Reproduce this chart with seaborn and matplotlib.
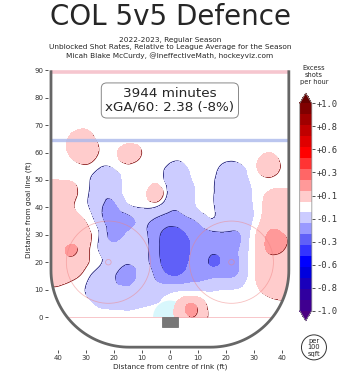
import numpy as np
import matplotlib
matplotlib.use("Agg")
import matplotlib.pyplot as plt
import matplotlib.tri as mtri
import matplotlib.transforms as mtransforms
from matplotlib.colors import ListedColormap, BoundaryNorm
from matplotlib.cm import ScalarMappable
from matplotlib.path import Path
from matplotlib.patches import PathPatch, Circle, Rectangle, Wedge
import seaborn as sns

# grid of excess unblocked shots per hour per 100 sqft
grid_x = [-45, -40, -35, -30, -25, -20, -15, -10, -5, 0, 5, 10, 15, 20, 25, 30, 35, 40, 45]
grid_y = [70, 65, 60, 55, 50, 45, 40, 35, 30, 25, 20, 15, 10, 5, 0]
excess = [
    [0, 0, 0, 0.03, 0, 0, 0, 0, 0, 0, 0, 0, 0, 0, 0, 0, 0, 0, 0],
    [0, 0, 0.08, 0.1, 0.02, 0, 0, 0, 0, 0, 0, 0, 0, 0, 0, 0, 0, 0, 0],
    [0, 0, 0.08, 0.12, 0.03, 0.02, 0.12, 0.04, 0, 0, 0, 0, 0, 0, 0, 0, 0.05, 0, 0],
    [0, 0, 0.01, 0.03, -0.03, -0.03, 0.02, 0, 0, -0.06, -0.06, 0, 0, -0.07, -0.06, 0.02, 0.12, 0.03, 0],
    [0.05, 0.05, 0.04, -0.02, -0.1, -0.1, -0.01, 0, 0.02, -0.1, -0.1, -0.02, -0.02, -0.12, -0.1, -0.02, 0.03, 0.02, 0.02],
    [0.08, 0.12, 0.08, -0.02, -0.12, -0.12, -0.02, 0, 0.11, -0.08, -0.12, -0.03, -0.03, -0.12, -0.12, -0.03, 0.06, 0.08, 0.08],
    [0.12, 0.12, 0.06, -0.03, -0.12, -0.17, -0.07, -0.04, -0.04, -0.12, -0.12, -0.04, -0.03, -0.12, -0.12, -0.04, 0.1, 0.12, 0.12],
    [0.12, 0.12, 0.12, 0.04, -0.1, -0.2, -0.18, -0.13, -0.16, -0.2, -0.18, -0.13, -0.06, -0.1, -0.1, -0.03, 0.12, 0.12, 0.12],
    [0.12, 0.12, 0.12, 0.08, -0.05, -0.18, -0.12, -0.12, -0.2, -0.3, -0.26, -0.2, -0.17, -0.16, -0.15, 0.02, 0.155, 0.155, 0.12],
    [0.1, 0.12, 0.16, 0.08, -0.06, -0.12, -0.1, -0.12, -0.2, -0.33, -0.3, -0.2, -0.22, -0.2, -0.14, 0.03, 0.16, 0.155, 0.12],
    [0.1, 0.12, 0.12, 0.06, -0.03, -0.1, -0.13, -0.12, -0.2, -0.3, -0.28, -0.2, -0.26, -0.22, -0.14, 0.03, 0.12, 0.12, 0.12],
    [0.1, 0.1, 0.07, 0, -0.1, -0.13, -0.2, -0.1, -0.16, -0.24, -0.22, -0.18, -0.17, -0.16, -0.12, 0.03, 0.12, 0.12, 0.12],
    [0.03, 0.03, 0, -0.05, -0.12, -0.12, -0.12, -0.12, -0.1, -0.08, -0.06, -0.06, -0.06, -0.05, -0.04, 0.02, 0.08, 0.1, 0.1],
    [0.02, 0.02, 0, -0.02, -0.07, -0.08, -0.08, -0.07, -0.05, 0, 0.12, 0.12, 0, 0, 0, 0, 0.02, 0.03, 0.03],
    [0, 0, 0, 0, 0, 0, 0, 0, 0, 0.02, 0.12, 0.12, 0.02, 0, 0, 0, 0, 0, 0],
]

# colour bands, from white outward
bounds = np.round(np.arange(-0.95, 0.951, 0.1), 2)
blues = ["#ccccff", "#9999ff", "#6060f8", "#3333ff", "#0000ff", "#0000dd", "#1a00bb", "#30009f", "#400090"]
reds = ["#ffcccc", "#ff9999", "#ff6666", "#ff3333", "#ff0000", "#e00000", "#c00000", "#a00000", "#800000"]
cbar_ticks = np.linspace(-0.95, 0.95, 10)
cbar_labels = ["-1.0", "-0.8", "-0.6", "-0.3", "-0.1", "+0.1", "+0.3", "+0.6", "+0.8", "+1.0"]

sns.set_theme(style="white", rc={"xtick.bottom": True, "ytick.left": True,
                                 "xtick.major.size": 2, "ytick.major.size": 2,
                                 "xtick.major.width": 0.6, "ytick.major.width": 0.6,
                                 "xtick.color": "#333333", "ytick.color": "#333333"})
plt.rcParams["font.family"] = ["DejaVu Sans"]

fig = plt.figure(figsize=(3.58, 3.83), dpi=100)
ax = fig.add_axes([0.1346, 0.0864, 0.680, 0.730])
ax.set_xlim(-43.5, 43.5)
ax.set_ylim(-12, 90)
sns.despine(ax=ax, left=True, bottom=True)

# rink outline
t1 = np.linspace(np.pi, 1.5 * np.pi, 40)
t2 = np.linspace(1.5 * np.pi, 2 * np.pi, 40)
rx = np.concatenate([[-42.5], -14.5 + 28 * np.cos(t1), 14.5 + 28 * np.cos(t2), [42.5]])
ry = np.concatenate([[90], 17 + 28 * np.sin(t1), 17 + 28 * np.sin(t2), [90]])
rink = PathPatch(Path(np.column_stack([rx, ry])), fc="none", ec="none", transform=ax.transData)
ax.add_patch(rink)

# crease, drawn under the heat map
ax.add_patch(Wedge((0, 0), 6, 0, 180, fc="#d8f7fc", ec="none", zorder=1))

# triangulated grid, refined by the library for smooth contours
X, Y = np.meshgrid(grid_x, grid_y)
Z = np.array(excess)
nx, ny = len(grid_x), len(grid_y)
tris = []
for j in range(ny - 1):
    for i in range(nx - 1):
        a = j * nx + i
        tris.append([a, a + 1, a + nx])
        tris.append([a + 1, a + nx + 1, a + nx])
tri = mtri.Triangulation(X.ravel(), Y.ravel(), np.array(tris))
tri_f, z_f = mtri.UniformTriRefiner(tri).refine_field(Z.ravel(), subdiv=3)

pt = 1 / 72
up_left = mtransforms.ScaledTranslation(-0.6 * pt, 0.6 * pt, fig.dpi_scale_trans)
down_right = mtransforms.ScaledTranslation(0.6 * pt, -0.6 * pt, fig.dpi_scale_trans)
zo = 2.0
lo, hi = -10, 10
for k, c in enumerate(blues):
    lev = -0.05 - 0.1 * k
    if z_f.min() >= lev:
        break
    cs = ax.tricontour(tri_f, z_f, levels=[lev], colors="#1c1c78", linewidths=0.6,
                       linestyles="solid", transform=ax.transData + up_left, zorder=zo)
    cs.set_clip_path(rink)
    cf = ax.tricontourf(tri_f, z_f, levels=[lo, lev], colors=[c], zorder=zo + 0.05)
    cf.set_clip_path(rink)
    zo += 0.1
for k, c in enumerate(reds):
    lev = 0.05 + 0.1 * k
    if z_f.max() <= lev:
        break
    cs = ax.tricontour(tri_f, z_f, levels=[lev], colors="#8b1515", linewidths=0.6,
                       linestyles="solid", transform=ax.transData + down_right, zorder=zo)
    cs.set_clip_path(rink)
    cf = ax.tricontourf(tri_f, z_f, levels=[lev, hi], colors=[c], zorder=zo + 0.05)
    cf.set_clip_path(rink)
    zo += 0.1

# rink markings
ax.plot([-42.5, 42.5], [89.5, 89.5], color="#f4b8c4", lw=2.6, alpha=0.8, zorder=4, solid_capstyle="butt")
ax.plot([-42.5, 42.5], [64.5, 64.5], color="#aab8ec", lw=2.4, alpha=0.8, zorder=4, solid_capstyle="butt")
gl = ax.plot([-42.5, 42.5], [0, 0], color="#f4a0a8", lw=0.6, alpha=0.7, zorder=4)[0]
gl.set_clip_path(rink)
for cx in (-22, 22):
    ax.add_patch(Circle((cx, 20), 15, fc="none", ec="#f08080", lw=0.6, alpha=0.5, zorder=4))
    ax.add_patch(Circle((cx, 20), 1, fc="none", ec="#f08080", lw=0.6, alpha=0.5, zorder=4))
ax.add_patch(Rectangle((-3, -3.5), 6, 3.5, fc="#777777", ec="#666666", lw=0.5, zorder=5))
ax.plot(rx, ry, color="#666666", lw=2, zorder=6, solid_capstyle="butt")

ax.text(0, 79, "3944 minutes\nxGA/60: 2.38 (-8%)", ha="center", va="center", fontsize=9.7,
        linespacing=1.1, zorder=7,
        bbox=dict(boxstyle="round,pad=0.3,rounding_size=0.4", fc="white", ec="#888888", lw=0.7))

ax.set_xticks(range(-40, 41, 10))
ax.set_xticklabels([str(abs(v)) for v in range(-40, 41, 10)])
ax.set_yticks(range(0, 91, 10))
ax.tick_params(labelsize=5, pad=1.5)
ax.set_xlabel("Distance from centre of rink (ft)", fontsize=5.2, labelpad=2)
ax.set_ylabel("Distance from goal line (ft)", fontsize=5.2, labelpad=2)

fig.text(0.475, 0.955, "COL 5v5 Defence", ha="center", va="center", fontsize=20)
fig.text(0.475, 0.875, "2022-2023, Regular Season\nUnblocked Shot Rates, Relative to League Average for the Season\n"
         "Micah Blake McCurdy, @IneffectiveMath, hockeyviz.com",
         ha="center", va="center", fontsize=5.3, linespacing=1.25)

# colour bar
cb_colors = blues[::-1] + ["#ffffff"] + reds
cmap = ListedColormap(cb_colors)
cmap.set_under("#4b0082")
cmap.set_over("#660000")
norm = BoundaryNorm(bounds, len(cb_colors))
cax = fig.add_axes([0.837, 0.162, 0.034, 0.595])
cb = fig.colorbar(ScalarMappable(norm=norm, cmap=cmap), cax=cax, extend="both", ticks=cbar_ticks)
cb.minorticks_off()
cb.set_ticklabels(cbar_labels)
cb.outline.set_edgecolor("#999999")
cb.outline.set_linewidth(0.6)
cax.tick_params(which="major", labelsize=6.3, length=2, width=0.6, pad=1.5, right=True, left=False)
cax.tick_params(which="minor", length=0)
for lab in cax.get_yticklabels():
    lab.set_family("DejaVu Sans Mono")
fig.text(0.877, 0.803, "Excess\nshots\nper hour", ha="center", va="center", fontsize=4.8, linespacing=1.2)
fig.text(0.877, 0.093, "per\n100\nsqft", ha="center", va="center", fontsize=4.8, linespacing=1.1,
         bbox=dict(boxstyle="circle,pad=0.45", fc="white", ec="#333333", lw=0.7))

fig.savefig("out.png", dpi=100)
